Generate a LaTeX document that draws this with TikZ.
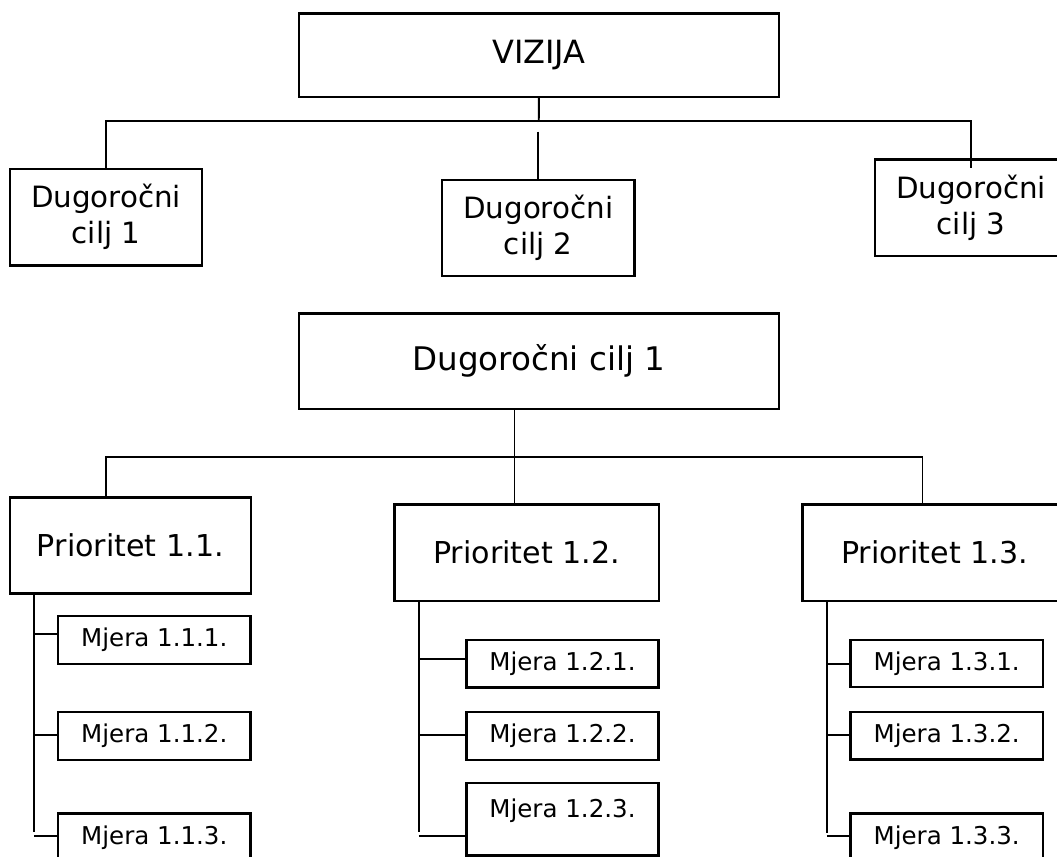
\documentclass[tikz,border=0pt]{standalone}
\usepackage{fontspec}
\setmainfont{DejaVu Sans}
\begin{document}
\begin{tikzpicture}[x=0.75pt,y=-0.75pt,
  bx/.style={draw=black, line width=1.8pt, inner sep=0pt, align=center, fill=white},
  sz/.style 2 args={minimum width=#1*0.75pt, minimum height=#2*0.75pt},
  big/.style={font=\fontsize{24}{28}\selectfont},
  bigb/.style={font=\fontsize{24.4}{28}\selectfont},
  mid/.style={font=\fontsize{22}{27}\selectfont},
  pri/.style={font=\fontsize{22.6}{27}\selectfont},
  sml/.style={font=\fontsize{18.4}{21}\selectfont},
  con/.style={draw=black, line width=1.4pt}]
\useasboundingbox (0,0) rectangle (1057,857);
\clip (0,0) rectangle (1057,857);
\fill[white] (0,0) rectangle (1057,857);

% top tree
\node[bx,sz={480.3}{83.4},big] (V) at (538.9,55) {VIZIJA};
\node[bx,sz={192}{96.5},mid] (D1) at (106,217.3) {Dugoročni\\cilj 1};
\node[bx,sz={192.5}{96},mid] (D2) at (538.2,228) {Dugoročni\\cilj 2};
\node[bx,sz={192.5}{96.7},mid] (D3) at (971,207.7) {Dugoročni\\cilj 3};

\coordinate (hubT) at (538.8,120.7);
\coordinate (d3end) at (971,168.3);
\coordinate (gap2) at (538.2,131.7);
\draw[con] (V.south) -- (hubT);
\draw[con] (D1.north) |- (hubT) -| (d3end);
\draw[con] (gap2) -- (D2.north);

% lower tree
\node[bx,sz={480.3}{95.7},bigb] (M) at (538.9,361.2) {Dugoročni cilj 1};
\node[bx,sz={240.8}{96},pri] (P1) at (130.4,545.3) {Prioritet 1.1.};
\node[bx,sz={264.3}{96.4},pri] (P2) at (526.6,552.5) {Prioritet 1.2.};
\node[bx,sz={264.3}{96.4},pri] (P3) at (934.5,552.5) {Prioritet 1.3.};

\coordinate (hubB) at (514.5,456.7);
\coordinate (p1x) at (105.9,456.7);
\coordinate (p3x) at (922.5,456.7);
\draw[con] (M.south -| hubB) -- (P2.north -| hubB);
\draw[con] (P1.north -| p1x) -- (p1x) -- (p3x) -- (P3.north -| p3x);

% measures
\node[bx,sz={192.7}{48},sml] (m111) at (154.3,640) {Mjera 1.1.1.};
\node[bx,sz={192.7}{48},sml] (m112) at (154.3,736) {Mjera 1.1.2.};
\node[bx,sz={192.7}{48},sml] (m113) at (154.3,837.3) {Mjera 1.1.3.};
\node[bx,sz={192.1}{47.7},sml] (m121) at (562.5,663.8) {Mjera 1.2.1.};
\node[bx,sz={192.1}{48},sml] (m122) at (562.5,736) {Mjera 1.2.2.};
\node[bx,sz={192.1}{72.6}] (m123) at (562.5,819) {};
\node[sml,inner sep=0pt] (t123) at (562.5,811) {Mjera 1.2.3.};
\node[bx,sz={192.2}{47},sml] (m131) at (946.7,663.5) {Mjera 1.3.1.};
\node[bx,sz={192.2}{47.3},sml] (m132) at (946.7,735.7) {Mjera 1.3.2.};
\node[bx,sz={192.2}{48},sml] (m133) at (946.7,837.3) {Mjera 1.3.3.};

% trunks
\coordinate (t1e) at (34.3,831.7);
\coordinate (t2e) at (418.9,831.7);
\coordinate (t3e) at (826.9,832.7);
\draw[con] (P1.south -| t1e) -- (t1e);
\draw[con] (P2.south -| t2e) -- (t2e);
\draw[con] (P3.south -| t3e) -- (t3e);

% branches
\coordinate (b111) at (34.3,634);
\coordinate (b112) at (34.3,735);
\coordinate (b113) at (34.3,836);
\coordinate (b121) at (418.9,658.7);
\coordinate (b122) at (418.9,735.3);
\coordinate (b123) at (418.9,836.3);
\coordinate (b131) at (826.9,663.7);
\coordinate (b132) at (826.9,735);
\coordinate (b133) at (826.9,836.3);
\draw[con] (b111) -- (b111 -| m111.west);
\draw[con] (b112) -- (b112 -| m112.west);
\draw[con] (b113) -- (b113 -| m113.west);
\draw[con] (b121) -- (b121 -| m121.west);
\draw[con] (b122) -- (b122 -| m122.west);
\draw[con] (b123) -- (b123 -| m123.west);
\draw[con] (b131) -- (b131 -| m131.west);
\draw[con] (b132) -- (b132 -| m132.west);
\draw[con] (b133) -- (b133 -| m133.west);
\end{tikzpicture}
\end{document}
